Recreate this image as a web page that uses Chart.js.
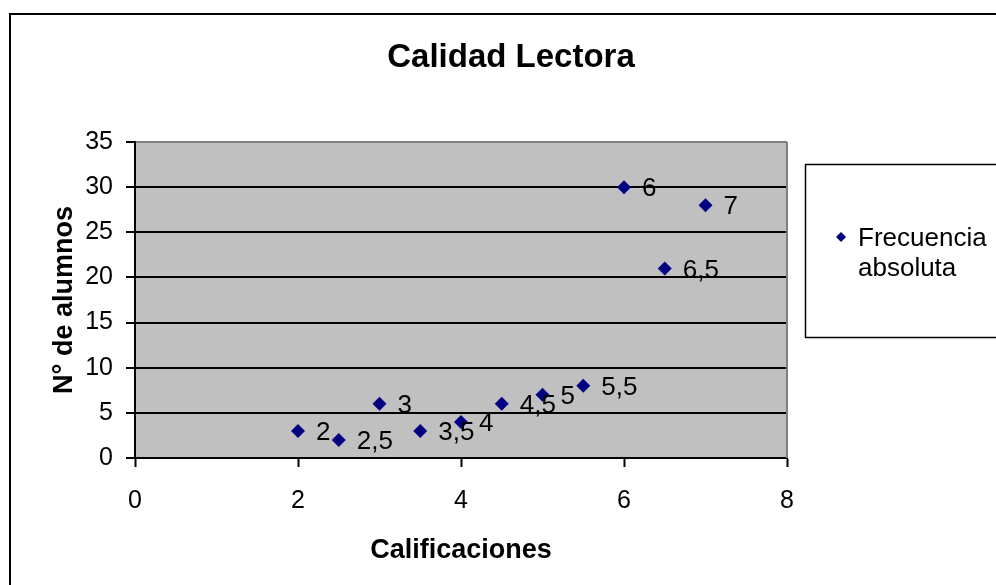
<!DOCTYPE html>
<html>
<head>
<meta charset="utf-8">
<script src="https://cdn.jsdelivr.net/npm/chart.js@4"></script>
<style>
  html, body { margin: 0; padding: 0; background: #fff; }
  #wrap { width: 996px; height: 585px; position: relative; }
</style>
</head>
<body>
<div id="wrap"><canvas id="chart" width="996" height="585"></canvas></div>
<script>
// Datos: calificaciones y número de alumnos
const calificaciones = [2, 2.5, 3, 3.5, 4, 4.5, 5, 5.5, 6, 6.5, 7];
const alumnos = [3, 2, 6, 3, 4, 6, 7, 8, 30, 21, 28];
const serieNombre = 'Frecuencia absoluta';
const titulo = 'Calidad Lectora';
const tituloX = 'Calificaciones';
const tituloY = 'N° de alumnos';

const FONT = '"Liberation Sans", Arial, sans-serif';

// fondo gris del área de trazado, borde gris, etiquetas, título, leyenda y marco
const decoPlugin = {
    id: 'deco',
    beforeDraw(chart) {
        const ctx = chart.ctx, a = chart.chartArea;
        ctx.save();
        ctx.fillStyle = '#C0C0C0';
        ctx.fillRect(a.left, a.top, a.right - a.left, a.bottom - a.top);
        ctx.restore();
    },
    afterDatasetsDraw(chart) {
        const ctx = chart.ctx, a = chart.chartArea;
        ctx.save();
        // borde derecho gris
        ctx.strokeStyle = '#808080';
        ctx.lineWidth = 2;
        ctx.beginPath();
        ctx.moveTo(a.right, a.top);
        ctx.lineTo(a.right, a.bottom);
        ctx.stroke();

        // etiquetas de datos (valor X)
        const meta = chart.getDatasetMeta(0);
        ctx.fillStyle = '#000';
        ctx.font = '26px ' + FONT;
        ctx.textAlign = 'left';
        ctx.textBaseline = 'middle';
        meta.data.forEach((pt, i) => {
            const txt = String(calificaciones[i]).replace('.', ',');
            ctx.fillText(txt, pt.x + 18, pt.y + 2);
        });
        ctx.restore();
    },
    afterDraw(chart) {
        const ctx = chart.ctx;
        ctx.save();
        // título
        ctx.fillStyle = '#000';
        ctx.font = 'bold 33px ' + FONT;
        ctx.textAlign = 'center';
        ctx.textBaseline = 'middle';
        ctx.fillText(titulo, 511, 58);

        // marco exterior
        ctx.strokeStyle = '#000';
        ctx.lineWidth = 2;
        ctx.strokeRect(10, 14, 1100, 700);

        // leyenda
        ctx.lineWidth = 1.5;
        ctx.strokeRect(805.5, 164.5, 300, 173);
        ctx.fillStyle = '#000080';
        ctx.beginPath();
        ctx.moveTo(841, 232); ctx.lineTo(846, 237); ctx.lineTo(841, 242); ctx.lineTo(836, 237);
        ctx.closePath();
        ctx.fill();
        ctx.fillStyle = '#000';
        ctx.font = '26px ' + FONT;
        ctx.textAlign = 'left';
        ctx.textBaseline = 'middle';
        const partes = serieNombre.split(' ');
        ctx.fillText(partes[0], 858, 239);
        ctx.fillText(partes[1], 858, 269);
        ctx.restore();
    }
};

const ctx = document.getElementById('chart').getContext('2d');
new Chart(ctx, {
    type: 'scatter',
    data: {
        datasets: [{
            label: serieNombre,
            data: calificaciones.map((x, i) => ({ x: x, y: alumnos[i] })),
            pointStyle: 'rectRot',
            pointRadius: 7,
            pointBackgroundColor: '#000080',
            pointBorderColor: '#000080',
            pointBorderWidth: 0
        }]
    },
    options: {
        responsive: false,
        animation: false,
        layout: {
            padding: { top: 142, right: 209, bottom: 18, left: 48 }
        },
        plugins: {
            legend: { display: false },
            title: { display: false },
            tooltip: { enabled: false }
        },
        scales: {
            x: {
                type: 'linear',
                min: 0,
                max: 8,
                afterFit: s => { s.height = 109; },
                ticks: {
                    stepSize: 2,
                    color: '#000',
                    padding: 19,
                    font: { family: FONT, size: 25 }
                },
                grid: {
                    drawOnChartArea: false,
                    drawTicks: true,
                    tickLength: 9,
                    tickColor: '#000',
                    tickWidth: 2
                },
                border: { color: '#000', width: 2 },
                title: {
                    display: true,
                    text: tituloX,
                    color: '#000',
                    padding: 0,
                    font: { family: FONT, size: 27, weight: 'bold' }
                }
            },
            y: {
                type: 'linear',
                min: 0,
                max: 35,
                afterFit: s => { s.width = 87; },
                ticks: {
                    stepSize: 5,
                    color: '#000',
                    padding: 13,
                    font: { family: FONT, size: 25 }
                },
                grid: {
                    color: c => (c.tick && c.tick.value === 35) ? '#808080' : '#000',
                    lineWidth: 2,
                    tickLength: 9,
                    tickColor: '#000',
                    tickWidth: 2
                },
                border: { color: '#000', width: 2 },
                title: {
                    display: true,
                    text: tituloY,
                    color: '#000',
                    padding: 0,
                    font: { family: FONT, size: 27, weight: 'bold' }
                }
            }
        }
    },
    plugins: [decoPlugin]
});
</script>
</body>
</html>
